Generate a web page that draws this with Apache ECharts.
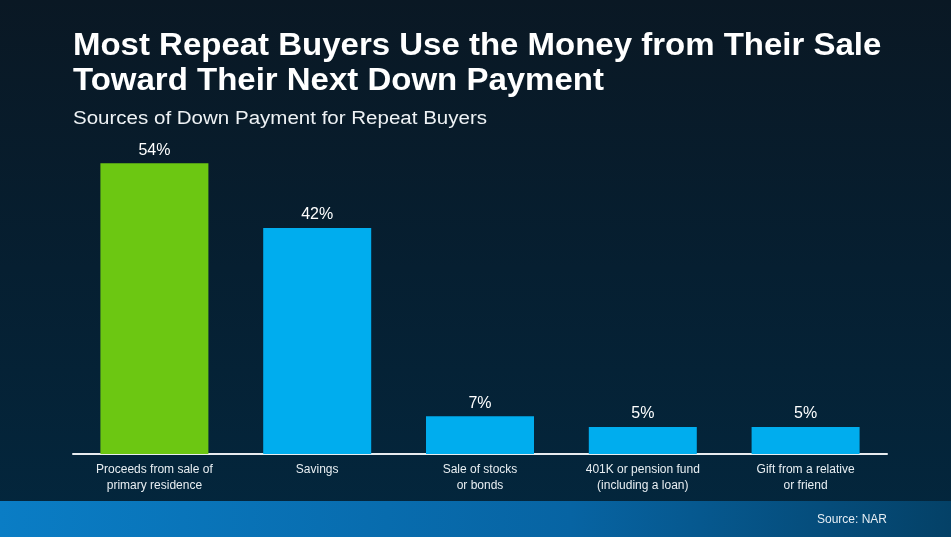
<!DOCTYPE html>
<html>
<head>
<meta charset="utf-8">
<script src="https://cdn.jsdelivr.net/npm/echarts@6/dist/echarts.min.js"></script>
<style>
html,body{margin:0;padding:0;width:951px;height:537px;overflow:hidden;background:#061f30;}
#chart{width:951px;height:537px;}
</style>
</head>
<body>
<div id="chart"></div>
<script>
var categories = [
  "Proceeds from sale of\nprimary residence",
  "Savings",
  "Sale of stocks\nor bonds",
  "401K or pension fund\n(including a loan)",
  "Gift from a relative\nor friend"
];
var values = [54, 42, 7, 5, 5];
var barColors = ["#6cc712", "#00adee", "#00adee", "#00adee", "#00adee"];
var titleLines = ["Most Repeat Buyers Use the Money from Their Sale", "Toward Their Next Down Payment"];
var subtitleText = "Sources of Down Payment for Repeat Buyers";
var sourceText = "Source: NAR";

var chart = echarts.init(document.getElementById('chart'));
var font = "'Liberation Sans', Arial, Helvetica, sans-serif";
chart.setOption({
  backgroundColor: {
    type: 'linear', x: 0, y: 0, x2: 0, y2: 1,
    colorStops: [
      {offset: 0, color: '#0a1824'},
      {offset: 0.5, color: '#061f31'},
      {offset: 1, color: '#03273e'}
    ]
  },
  textStyle: {fontFamily: font},
  graphic: [
    {
      type: 'rect',
      shape: {x: 0, y: 501, width: 951, height: 36},
      style: {
        fill: {
          type: 'linear', x: 0, y: 0, x2: 1, y2: 0,
          colorStops: [
            {offset: 0, color: '#0a7dc5'},
            {offset: 0.6, color: '#0764a3'},
            {offset: 1, color: '#044167'}
          ]
        }
      },
      z: 0
    },
    {
      type: 'text',
      x: 73, y: 46, scaleX: 1.064,
      style: {text: titleLines[0], fill: '#ffffff', font: "bold 31px " + font, textAlign: 'left', textVerticalAlign: 'middle'},
      z: 5
    },
    {
      type: 'text',
      x: 73, y: 81, scaleX: 1.064,
      style: {text: titleLines[1], fill: '#ffffff', font: "bold 31px " + font, textAlign: 'left', textVerticalAlign: 'middle'},
      z: 5
    },
    {
      type: 'text',
      x: 73, y: 119, scaleX: 1.14,
      style: {text: subtitleText, fill: '#eef2f5', font: "18px " + font, textAlign: 'left', textVerticalAlign: 'middle'},
      z: 5
    },
    {
      type: 'text',
      right: 64,
      top: 514,
      style: {text: sourceText, fill: '#e6eef4', font: "12px " + font, textAlign: 'right'},
      z: 5
    }
  ],
  grid: {left: 73, right: 64, top: 131, bottom: 83},
  xAxis: {
    type: 'category',
    data: categories,
    axisLine: {lineStyle: {color: '#e8ecef', width: 2}},
    axisTick: {show: false},
    axisLabel: {color: '#e8eef2', fontSize: 12, lineHeight: 16, margin: 8, interval: 0, fontFamily: font}
  },
  yAxis: {
    type: 'value',
    min: 0, max: 60,
    show: false,
    splitLine: {show: false}
  },
  series: [{
    type: 'bar',
    data: values.map(function (v, i) { return {value: v, itemStyle: {color: barColors[i]}}; }),
    barWidth: 108,
    label: {
      show: true,
      position: 'top',
      distance: 5,
      color: '#ffffff',
      fontSize: 16,
      fontFamily: font,
      formatter: '{c}%'
    }
  }]
});
</script>
</body>
</html>
